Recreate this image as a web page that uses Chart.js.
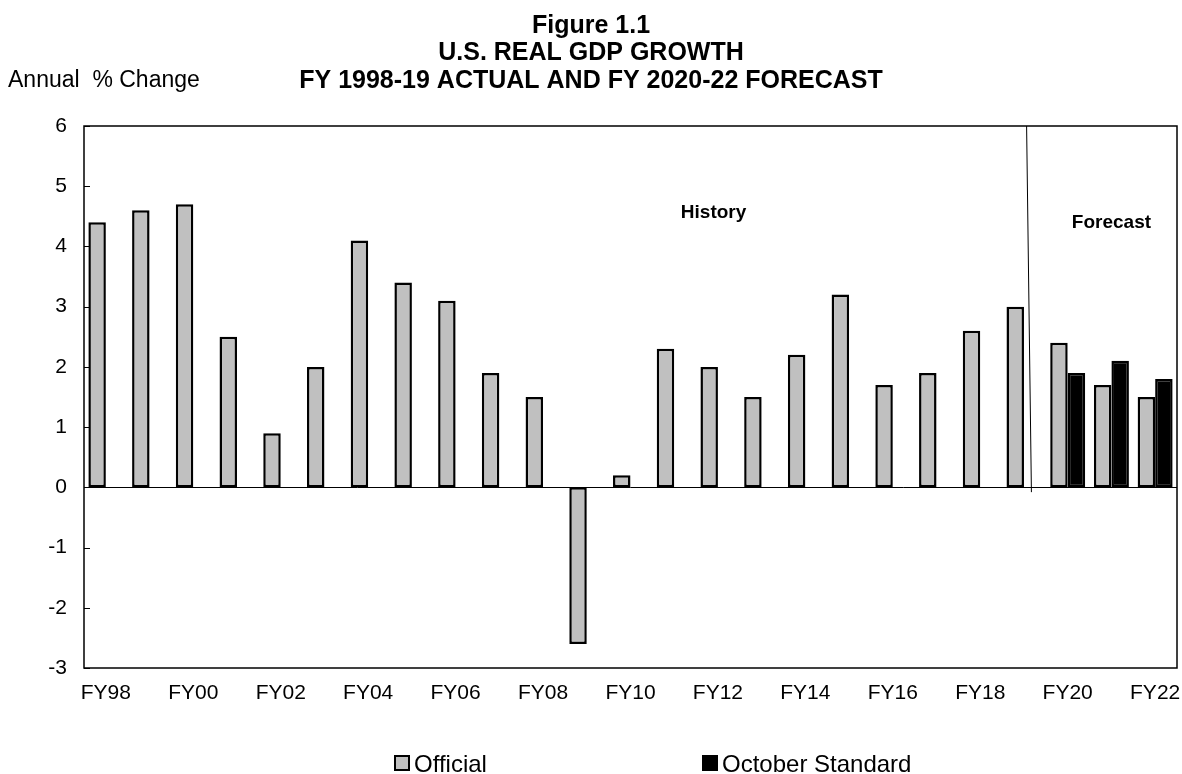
<!DOCTYPE html>
<html>
<head>
<meta charset="utf-8">
<title>U.S. Real GDP Growth</title>
<script src="https://cdn.jsdelivr.net/npm/chart.js@4.4.1/dist/chart.umd.min.js"></script>
<style>
  html, body { margin: 0; padding: 0; background: #fff; }
  #wrap { width: 1182px; height: 774px; position: relative; }
</style>
</head>
<body>
<div id="wrap"><canvas id="gdp"></canvas></div>
<script>
const FONT = "'Liberation Sans', Arial, sans-serif";

const fiscalYears = [
  'FY98', 'FY99', 'FY00', 'FY01', 'FY02', 'FY03', 'FY04', 'FY05', 'FY06',
  'FY07', 'FY08', 'FY09', 'FY10', 'FY11', 'FY12', 'FY13', 'FY14', 'FY15',
  'FY16', 'FY17', 'FY18', 'FY19', 'FY20', 'FY21', 'FY22'
];
const officialGrowth = [
  4.4, 4.6, 4.7, 2.5, 0.9, 2.0, 4.1, 3.4, 3.1,
  1.9, 1.5, -2.6, 0.2, 2.3, 2.0, 1.5, 2.2, 3.2,
  1.7, 1.9, 2.6, 3.0, 2.4, 1.7, 1.5
];
const octoberStandard = [
  null, null, null, null, null, null, null, null, null,
  null, null, null, null, null, null, null, null, null,
  null, null, null, null, 1.9, 2.1, 1.8
];
const yTicks = [-3, -2, -1, 0, 1, 2, 3, 4, 5, 6];
const titleLines = ['Figure 1.1', 'U.S. REAL GDP GROWTH', 'FY 1998-19 ACTUAL AND FY 2020-22 FORECAST'];

// history / forecast split, drawn just after the last actual year
const splitLine = { top: [21.06, 6], bottom: [21.17, -0.08] };
const regionNotes = [
  { text: 'History', x: 13.9, y: 4.56 },
  { text: 'Forecast', x: 23.0, y: 4.4 }
];

const decorations = {
  id: 'decorations',
  afterDatasetsDraw(chart) {
    const { ctx, chartArea: a, scales: { x, y } } = chart;
    ctx.save();

    // frame around the plot
    ctx.strokeStyle = '#000';
    ctx.lineWidth = 1.5;
    ctx.strokeRect(a.left, a.top, a.right - a.left, a.bottom - a.top);

    // inward tick marks on the value axis
    ctx.lineWidth = 1;
    yTicks.forEach(v => {
      const py = Math.round(y.getPixelForValue(v)) + 0.5;
      ctx.beginPath();
      ctx.moveTo(a.left, py);
      ctx.lineTo(a.left + 6, py);
      ctx.stroke();
    });

    // zero line
    const y0 = Math.round(y.getPixelForValue(0)) + 0.5;
    ctx.beginPath();
    ctx.moveTo(a.left, y0);
    ctx.lineTo(a.right, y0);
    ctx.stroke();

    // split line
    ctx.beginPath();
    ctx.moveTo(x.getPixelForValue(splitLine.top[0]), y.getPixelForValue(splitLine.top[1]));
    ctx.lineTo(x.getPixelForValue(splitLine.bottom[0]), y.getPixelForValue(splitLine.bottom[1]));
    ctx.stroke();

    ctx.fillStyle = '#000';
    ctx.font = 'bold 19px ' + FONT;
    ctx.textAlign = 'center';
    ctx.textBaseline = 'middle';
    regionNotes.forEach(n => {
      ctx.fillText(n.text, x.getPixelForValue(n.x), y.getPixelForValue(n.y));
    });
    ctx.restore();
  },
  afterDraw(chart) {
    const { ctx, width } = chart;
    ctx.save();
    ctx.fillStyle = '#000';
    ctx.textBaseline = 'middle';

    ctx.font = 'bold 25px ' + FONT;
    ctx.textAlign = 'center';
    titleLines.forEach((line, i) => ctx.fillText(line, width / 2, 26 + i * 27.5));

    ctx.font = '23px ' + FONT;
    ctx.textAlign = 'left';
    ctx.fillText('Annual  % Change', 8, 81);

    // legend
    const items = [
      { ds: chart.data.datasets[0], x: 395 },
      { ds: chart.data.datasets[1], x: 703 }
    ];
    ctx.font = '24px ' + FONT;
    ctx.textBaseline = 'alphabetic';
    items.forEach(it => {
      ctx.fillStyle = it.ds.backgroundColor;
      ctx.fillRect(it.x, 756, 14, 14);
      ctx.strokeStyle = '#000';
      ctx.lineWidth = 2;
      ctx.strokeRect(it.x, 756, 14, 14);
      ctx.fillStyle = '#000';
      ctx.fillText(it.ds.label, it.x + 19, 772);
    });
    ctx.restore();
  }
};

new Chart(document.getElementById('gdp'), {
  type: 'bar',
  data: {
    labels: fiscalYears,
    datasets: [
      {
        label: 'Official',
        data: officialGrowth,
        backgroundColor: '#c0c0c0',
        borderColor: '#000',
        borderWidth: 2.5,
        borderSkipped: false
      },
      {
        label: 'October Standard',
        data: octoberStandard,
        backgroundColor: '#000',
        borderColor: '#000',
        borderWidth: 2.5,
        borderSkipped: false
      }
    ]
  },
  options: {
    responsive: true,
    maintainAspectRatio: false,
    animation: false,
    layout: { padding: { left: 0, right: 5, top: 126, bottom: 66 } },
    plugins: {
      legend: { display: false },
      title: { display: false },
      tooltip: { enabled: false }
    },
    datasets: {
      bar: { categoryPercentage: 0.8, barPercentage: 1.0, grouped: true }
    },
    scales: {
      x: {
        grid: { display: false, drawTicks: false },
        border: { display: false },
        afterFit(scale) {
          scale.height = 40;
          scale.paddingLeft = 0;
          scale.paddingRight = 0;
        },
        ticks: {
          autoSkip: false,
          maxRotation: 0,
          padding: 13,
          color: '#000',
          font: { family: FONT, size: 21 },
          callback(value, index) { return index % 2 === 0 ? fiscalYears[index] : ''; }
        }
      },
      y: {
        min: -3,
        max: 6,
        grid: { display: false, drawTicks: false },
        border: { display: false },
        afterFit(scale) {
          scale.width = 84;
          scale.paddingTop = 0;
          scale.paddingBottom = 0;
        },
        ticks: {
          stepSize: 1,
          padding: 17,
          color: '#000',
          font: { family: FONT, size: 21 }
        }
      }
    }
  },
  plugins: [decorations]
});
</script>
</body>
</html>
